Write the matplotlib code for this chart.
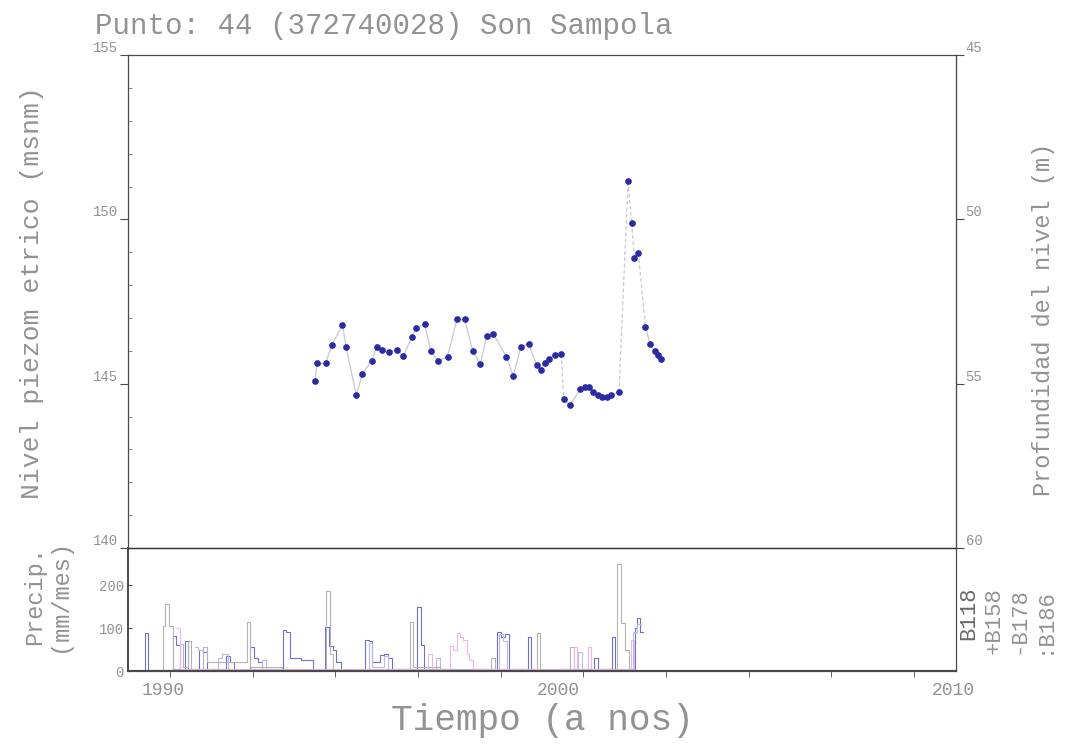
import numpy as np
import matplotlib
matplotlib.use("Agg")
import matplotlib.pyplot as plt

plt.rcParams['font.family'] = ['Liberation Mono', 'DejaVu Sans Mono']

# Piezometric level (m a.s.l.) at Punto 44
level_year = [1993.85, 1993.89, 1994.12, 1994.27, 1994.54, 1994.63, 1994.89, 1995.04,
              1995.28, 1995.41, 1995.55, 1995.73, 1995.91, 1996.08, 1996.29, 1996.41,
              1996.62, 1996.78, 1996.95, 1997.20, 1997.44, 1997.63, 1997.84, 1998.03,
              1998.19, 1998.36, 1998.69, 1998.86, 1999.06, 1999.25, 1999.46, 1999.56,
              1999.67, 1999.77, 1999.92, 2000.08, 2000.14, 2000.30, 2000.56, 2000.67,
              2000.78, 2000.89, 2001.02, 2001.12, 2001.23, 2001.34, 2001.54, 2001.77,
              2001.86, 2001.93, 2002.03, 2002.21, 2002.33, 2002.44, 2002.52, 2002.61]
level_m = [145.09, 145.64, 145.64, 146.18, 146.79, 146.13, 144.65, 145.29,
           145.70, 146.12, 146.03, 145.97, 146.03, 145.84, 146.41, 146.70,
           146.81, 145.99, 145.70, 145.82, 146.96, 146.96, 145.99, 145.59,
           146.45, 146.51, 145.82, 145.24, 146.13, 146.21, 145.57, 145.42,
           145.64, 145.74, 145.88, 145.90, 144.53, 144.35, 144.83, 144.89,
           144.91, 144.76, 144.66, 144.60, 144.59, 144.66, 144.74, 151.17,
           149.90, 148.82, 148.97, 146.73, 146.20, 145.99, 145.87, 145.75]
# segments drawn dashed (start index of segment)
dashed_from = [35, 46, 47, 48, 49, 50]

# Monthly precipitation (mm/mes) at nearby stations
b118_t = [1989.45, 1989.53, 1989.62, 1989.90, 1990.25, 1990.33, 1990.42, 1990.56, 1990.64,
          1990.90, 1991.00, 1991.10, 1991.60, 1991.70, 1991.80, 1992.20, 1992.30, 1992.40,
          1992.50, 1993.04, 1993.12, 1993.20, 1993.50, 1993.72, 1993.80, 1994.10, 1994.20,
          1994.30, 1994.38, 1994.50, 1995.10, 1995.20, 1995.30, 1995.50, 1995.60, 1995.70,
          1995.80, 1996.43, 1996.52, 1996.60, 1998.45, 1998.55, 1998.66, 1998.75, 1999.24,
          1999.32, 2000.10, 2000.90, 2001.00, 2001.37, 2001.45, 2001.95, 2002.00, 2002.08, 2002.15]
b118_mm = [0, 89, 2, 3, 82, 60, 2, 70, 5,
           50, 45, 5, 35, 20, 3, 56, 30, 20,
           5, 95, 90, 30, 25, 25, 0, 102, 58,
           50, 20, 0, 72, 70, 20, 37, 40, 30,
           5, 150, 60, 5, 90, 80, 85, 5, 80,
           0, 5, 30, 5, 80, 5, 100, 123, 90, 90]

b158_t = [1990.80, 1990.88, 1991.00, 1991.40, 1991.50, 1991.65, 1992.50, 1992.60, 1995.20,
          1995.30, 1995.60, 1995.70, 1996.90, 1997.00, 1998.50, 1998.60, 1998.70, 2000.50,
          2000.60, 2001.90, 2002.00, 2002.10]
b158_mm = [55, 50, 5, 30, 40, 5, 25, 5, 65,
           10, 35, 5, 30, 5, 85, 70, 5, 45,
           5, 90, 110, 110]

b178_t = [1989.90, 1990.00, 1990.05, 1990.15, 1990.25, 1990.43, 1990.50, 1990.62, 1990.70,
          1991.00, 1991.10, 1992.12, 1992.20, 1993.00, 1994.13, 1994.22, 1994.30, 1996.25,
          1996.33, 1997.00, 1998.30, 1998.40, 1999.47, 1999.55, 2000.30, 2000.40, 2001.50,
          2001.60, 2001.70, 2001.80, 2002.00]
b178_mm = [0, 105, 155, 105, 5, 63, 10, 70, 0,
           55, 20, 115, 10, 0, 187, 40, 0, 114,
           10, 0, 30, 0, 88, 0, 55, 0, 250,
           112, 50, 0, 0]

b186_t = [1990.35, 1990.42, 1996.70, 1996.80, 1997.26, 1997.35, 1997.44, 1997.52, 1997.60,
          1997.68, 1997.75, 1997.85, 2000.40, 2000.48, 2000.76, 2000.84, 2001.85, 2001.93]
b186_mm = [100, 5, 40, 5, 58, 50, 88, 80, 72,
           40, 25, 5, 56, 5, 56, 5, 72, 5]

stations = ['B118', '+B158', '-B178', ':B186']
station_colors = ['#6f6fd8', '#babaf0', '#b4b4b4', '#eab8e2']

text_gray = '#929292'
frame_col = '#4a4a4a'

fig = plt.figure(figsize=(10.70, 7.56), dpi=100)
ax = fig.add_axes([0.1196, 0.2751, 0.7738, 0.6521])
axp = fig.add_axes([0.1196, 0.1124, 0.7738, 0.1627], sharex=ax)
axp.patch.set_alpha(0)

xlo, xhi = 1989.11, 2010.07
ax.set_xlim(xlo, xhi)

# level series: thin connecting line, dashed over data gaps
for i in range(len(level_year) - 1):
    ls = (0, (3, 2)) if i in dashed_from else '-'
    ax.plot(level_year[i:i + 2], level_m[i:i + 2], color='#c8c8d2', lw=0.9, ls=ls, zorder=2)
ax.plot(level_year, level_m, ls='none', marker='o', ms=3.8, color='#2a2aa4',
        markeredgecolor='#2a2aa4', zorder=3)

ax.set_ylim(140, 155)
ax.set_yticks([140, 145, 150, 155])
ax.set_yticks(np.arange(141, 155, 1), minor=True)
ax.tick_params(axis='y', which='major', direction='out', length=6, labelsize=10,
               labelcolor=text_gray, color=frame_col, pad=1)
ax.tick_params(axis='y', which='minor', direction='in', length=3, color='#777777')
for lab in ax.get_yticklabels():
    lab.set_va('bottom')
ax.tick_params(axis='x', which='both', bottom=False, labelbottom=False)
for s in ax.spines.values():
    s.set_color(frame_col)
    s.set_linewidth(0.9)

depth_ax = ax.secondary_yaxis('right', functions=(lambda v: 200 - v, lambda d: 200 - d))
depth_ax.set_yticks([45, 50, 55, 60])
depth_ax.tick_params(direction='out', length=6, labelsize=10, labelcolor=text_gray,
                     color=frame_col, pad=1)
for lab in depth_ax.get_yticklabels():
    lab.set_va('bottom')
depth_ax.spines['right'].set_color(frame_col)

fig.text(0.030, 0.613, 'Nivel piezom etrico (msnm)', rotation=90, color=text_gray,
         fontsize=19, ha='center', va='center')
fig.text(0.975, 0.578, 'Profundidad del nivel (m)', rotation=90, color=text_gray,
         fontsize=17, ha='center', va='center')
fig.text(0.089, 0.955, 'Punto: 44 (372740028) Son Sampola', color=text_gray, fontsize=21,
         ha='left', va='baseline')

# precipitation panel
series = [(b118_t, b118_mm), (b158_t, b158_mm), (b178_t, b178_mm), (b186_t, b186_mm)]
for (t, mm), c in zip(series, station_colors):
    axp.step(t, mm, where='post', color=c, lw=0.8)

axp.set_ylim(0, 286)
axp.set_yticks([0, 100, 200])
axp.tick_params(axis='y', direction='in', length=3, labelsize=10, labelcolor=text_gray,
                color=frame_col, pad=3)
axp.set_xticks([1990, 2000, 2010])
axp.set_xticks(1990.177 + 2.092 * np.arange(10), minor=True)
axp.tick_params(axis='x', which='major', length=0, labelsize=13, labelcolor=text_gray, pad=8)
axp.tick_params(axis='x', which='minor', direction='out', length=4, color=frame_col)
for s in axp.spines.values():
    s.set_color(frame_col)
    s.set_linewidth(0.9)
axp.spines['bottom'].set_linewidth(1.6)
axp.spines['left'].set_linewidth(1.4)
axp.spines['top'].set_color('#333333')

fig.text(0.044, 0.212, 'Precip.\n(mm/mes)', rotation=90, color=text_gray, fontsize=17,
         ha='center', va='center', linespacing=1.15)
fig.text(0.507, 0.035, 'Tiempo (a nos)', color=text_gray, fontsize=26,
         ha='center', va='baseline')

# station key, rotated, to the right of the panel
for k, (name, c) in enumerate(zip(stations, station_colors)):
    fig.text(0.9056 + k * 0.0235, 0.224, name, rotation=90,
             color='#6a6a6a' if k == 0 else text_gray,
             fontsize=16, ha='center', va='top')

fig.savefig('out.png', dpi=100)
